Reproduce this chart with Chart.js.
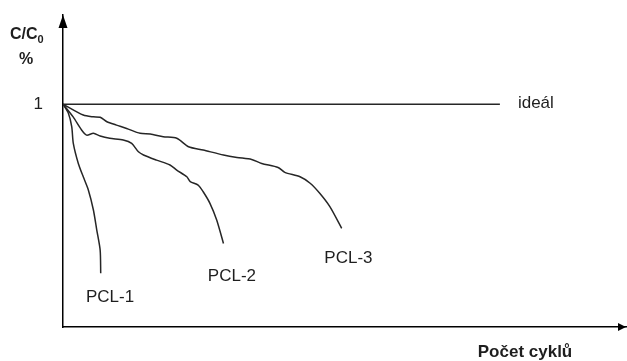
<!DOCTYPE html>
<html><head><meta charset="utf-8">
<script src="https://cdn.jsdelivr.net/npm/chart.js@4"></script>
<style>html,body{margin:0;padding:0;background:#fff}#w{width:627px;height:361px}</style>
</head><body><div id="w"><canvas id="c"></canvas></div>
<script>
// Data (x = relative number of cycles, y = C/C0)
const idealX = [0, 77.6];
const idealY = [1, 1];
const pcl1X = [0, 0.94, 1.55, 1.83, 2.72, 3.6, 4.5, 5.4, 6.0, 6.6, 6.7];
const pcl1Y = [1.0, 0.96, 0.899, 0.824, 0.734, 0.674, 0.615, 0.525, 0.435, 0.345, 0.241];
const pcl2X = [0, 1.8, 3.3, 4.2, 5.4, 6.6, 8.3, 10.7, 12.2, 13.4, 14.3, 16.6, 19.0, 20.2, 22.0, 22.6, 24.0, 24.9, 26.1, 27.3, 28.5];
const pcl2Y = [1.0, 0.943, 0.884, 0.861, 0.869, 0.857, 0.847, 0.839, 0.824, 0.786, 0.772, 0.749, 0.727, 0.704, 0.674, 0.652, 0.637, 0.607, 0.555, 0.480, 0.375];
const pcl3X = [0, 3.6, 5.4, 6.6, 7.8, 9.5, 11.3, 13.7, 15.5, 17.8, 20.2, 22.3, 24.9, 28.5, 30.9, 33.5, 35.3, 38.2, 39.4, 42.1, 43.9, 45.6, 47.4, 49.5];
const pcl3Y = [1.0, 0.951, 0.943, 0.941, 0.921, 0.906, 0.891, 0.869, 0.866, 0.854, 0.847, 0.809, 0.794, 0.772, 0.761, 0.752, 0.734, 0.716, 0.694, 0.674, 0.645, 0.600, 0.540, 0.443];
const yTicks = [1];
const labelTexts = ["PCL-1", "PCL-2", "PCL-3", "ideál"];
const labelAnchors = [[8.35, 0.135], [30.0, 0.229], [50.7, 0.308], [80.8, 1.003]];
const labelAlign = ["center", "center", "center", "left"];

const pts = (xs, ys) => xs.map((x, i) => ({x, y: ys[i]}));
const lineStyle = {borderColor: '#262626', borderWidth: 1.5, pointRadius: 0, fill: false, tension: 0.25};

const FONT = 'Arial, "Liberation Sans", sans-serif';
const TXT = '#1e1e1e';

const decor = {
  id: 'decor',
  afterDraw(chart) {
    const {ctx, chartArea: a, scales: {x, y}} = chart;
    ctx.save();
    ctx.fillStyle = '#000';
    // y arrow
    ctx.beginPath();
    ctx.moveTo(a.left, a.top);
    ctx.lineTo(a.left - 4.5, a.top + 13);
    ctx.lineTo(a.left + 4.5, a.top + 13);
    ctx.closePath(); ctx.fill();
    // x arrow
    ctx.beginPath();
    ctx.moveTo(a.right, a.bottom);
    ctx.lineTo(a.right - 8, a.bottom - 4);
    ctx.lineTo(a.right - 8, a.bottom + 4);
    ctx.closePath(); ctx.fill();
    // labels
    ctx.fillStyle = TXT;
    ctx.textBaseline = 'middle';
    ctx.font = '17px ' + FONT;
    labelTexts.forEach((t, i) => {
      ctx.textAlign = labelAlign[i];
      ctx.fillText(t, x.getPixelForValue(labelAnchors[i][0]), y.getPixelForValue(labelAnchors[i][1]));
    });
    // y title C/C0 %
    ctx.font = 'bold 16px ' + FONT;
    ctx.textAlign = 'left';
    ctx.fillText('C/C', 10, 35);
    const w = ctx.measureText('C/C').width;
    ctx.font = 'bold 11px ' + FONT;
    ctx.fillText('0', 10 + w, 40);
    ctx.font = 'bold 16px ' + FONT;
    ctx.textAlign = 'center';
    ctx.fillText('%', 26, 60);
    // x title
    ctx.font = 'bold 17px ' + FONT;
    ctx.textAlign = 'center';
    ctx.fillText('Počet cyklů', 525, 352);
    ctx.restore();
  }
};

new Chart(document.getElementById('c'), {
  type: 'line',
  data: {
    datasets: [
      {data: pts(idealX, idealY), ...lineStyle, tension: 0},
      {data: pts(pcl1X, pcl1Y), ...lineStyle},
      {data: pts(pcl2X, pcl2Y), ...lineStyle},
      {data: pts(pcl3X, pcl3Y), ...lineStyle}
    ]
  },
  options: {
    responsive: true, maintainAspectRatio: false, animation: false,
    layout: {padding: {top: 15, right: 1, left: 0, bottom: 0}},
    plugins: {legend: {display: false}, tooltip: {enabled: false}},
    scales: {
      x: {
        type: 'linear', min: 0, max: 100,
        grid: {display: false, drawTicks: false},
        border: {display: true, color: '#000', width: 1.5},
        ticks: {display: false},
        afterFit(s) { s.height = 34; s.paddingLeft = 0; s.paddingRight = 0; }
      },
      y: {
        min: 0, max: 1.4,
        grid: {display: false, drawTicks: false},
        border: {display: true, color: '#000', width: 1.5},
        afterBuildTicks(s) { s.ticks = yTicks.map(v => ({value: v})); },
        ticks: {color: TXT, font: {family: FONT, size: 17}, padding: 20, callback: v => String(v)},
        afterFit(s) { s.width = 63; s.paddingTop = 0; s.paddingBottom = 0; }
      }
    }
  },
  plugins: [decor]
});
</script>
</body></html>
